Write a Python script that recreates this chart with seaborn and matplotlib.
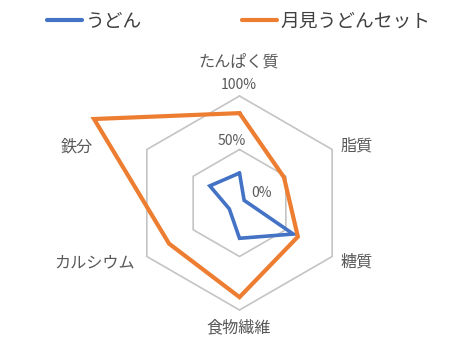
import numpy as np
import pandas as pd
import matplotlib
matplotlib.use("Agg")
import matplotlib.pyplot as plt
import seaborn as sns

categories = ["たんぱく質", "脂質", "糖質", "食物繊維", "カルシウム", "鉄分"]
udon = [0.28, 0.05, 0.58, 0.33, 0.11, 0.32]
tsukimi_set = [0.84, 0.48, 0.63, 0.88, 0.76, 1.57]
series_names = ["うどん", "月見うどんセット"]
tick_values = [0.0, 0.5, 1.0]
tick_labels = ["0%", "50%", "100%"]

colors = ["#4472C4", "#ED7D31"]

sns.set_theme(style="white")
plt.rcParams["font.family"] = ["Noto Sans CJK JP", "DejaVu Sans"]

n = len(categories)
angles = np.linspace(0, 2 * np.pi, n, endpoint=False)

rows = []
for name, vals in zip(series_names, [udon, tsukimi_set]):
    for i in list(range(n)) + [0]:
        rows.append({"angle": angles[i], "value": vals[i], "series": name})
df = pd.DataFrame(rows)

fig = plt.figure(figsize=(4.53, 3.5), dpi=100)
fig.patch.set_facecolor("#FFFFFF")
ax = fig.add_axes([0.2925, 0.1143, 0.4724, 0.6114], projection="polar")
ax.set_theta_offset(np.pi / 2)
ax.set_theta_direction(-1)
ax.set_facecolor("none")

# hexagonal gridlines
for tv in tick_values[1:]:
    ax.plot(np.append(angles, angles[0]), [tv] * (n + 1), color="#C4C4C4",
            lw=1.2, zorder=1, clip_on=False)

sns.lineplot(data=df, x="angle", y="value", hue="series", palette=colors,
             sort=False, estimator=None, ax=ax, legend=False, zorder=3)
for line, lw in zip(ax.lines[-2:], [2.6, 3.0]):
    line.set_linewidth(lw)
    line.set_clip_on(False)
    line.set_solid_joinstyle("miter")

ax.set_ylim(0, 1.0)
ax.set_xticks([])
ax.set_yticks([])
ax.grid(False)
ax.spines["polar"].set_visible(False)
ax.set_xlabel("")
ax.set_ylabel("")

# radial tick labels
tick_pos = {"0%": (0.21, 0.095), "50%": (-0.07, 0.575), "100%": (-0.01, 1.105)}
for lab in tick_labels:
    dx, dy = tick_pos[lab]
    ax.text(np.arctan2(dx, dy), np.hypot(dx, dy), lab, ha="center", va="center",
            fontsize=10, color="#595959", clip_on=False)

# category labels
label_pos = [(-0.01, 1.32, "center"), (0.94, 0.53, "left"), (0.94, -0.55, "left"),
             (-0.01, -1.17, "center"), (-0.98, -0.56, "right"), (-1.37, 0.52, "right")]
for cat, (x, y, ha) in zip(categories, label_pos):
    ax.text(np.arctan2(x, y), np.hypot(x, y), cat, ha=ha, va="center",
            fontsize=11.6, color="#595959", clip_on=False)

from matplotlib.lines import Line2D
handles = [Line2D([], [], color=c, lw=3) for c in colors]
fig.legend(handles, series_names, loc="center", bbox_to_anchor=(0.527, 0.94),
           ncol=2, frameon=False, fontsize=13.5, handlelength=1.9,
           handletextpad=0.2, columnspacing=5.3, labelcolor="#404040")

fig.savefig("out.png", dpi=100)
